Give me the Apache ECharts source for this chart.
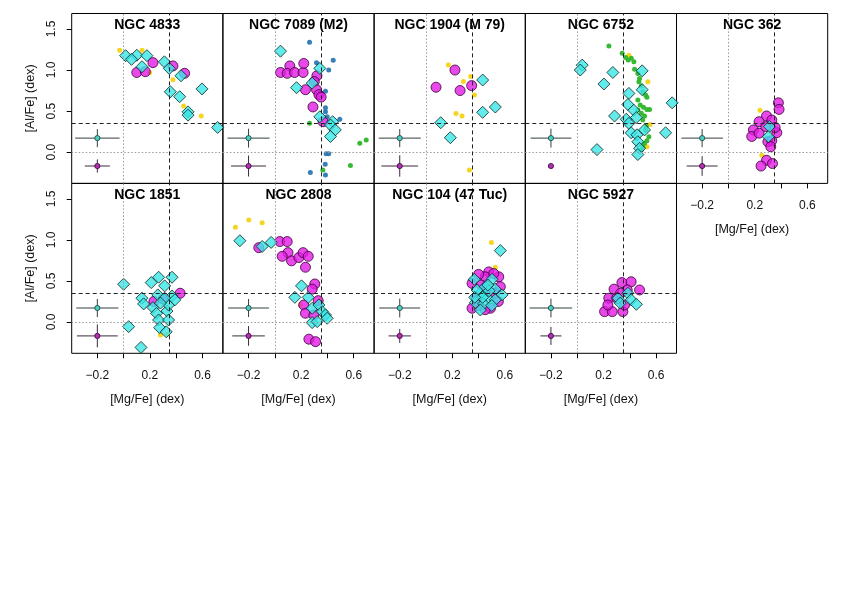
<!DOCTYPE html>
<html><head><meta charset="utf-8">
<script src="https://cdn.jsdelivr.net/npm/echarts@6/dist/echarts.min.js"></script>
<style>html,body{margin:0;padding:0;background:#fff}#c{width:841px;height:595px}</style>
</head><body><div id="c"></div>
<script>
// ---------- DATA ----------
const titles = ["NGC 4833","NGC 7089 (M2)","NGC 1904 (M 79)","NGC 6752","NGC 362","NGC 1851","NGC 2808","NGC 104 (47 Tuc)","NGC 5927"];
const xTicks = [-0.2, 0, 0.2, 0.4, 0.6];
const xTickLabels = [-0.2, 0.2, 0.6];
const yTicks = [0, 0.5, 1.0, 1.5];
const refDotted = 0;
const refDashed = 0.35;

// NGC 4833
const cyan_4833 = [[0.015,1.175],[0.10,1.18],[0.177,1.175],[0.06,1.13],[0.14,1.04],[0.31,1.10],[0.347,1.02],[0.436,0.93],[0.596,0.77],[0.355,0.735],[0.426,0.675],[0.49,0.49],[0.49,0.45],[0.715,0.30]];
const mag_4833 = [[0.10,0.97],[0.165,0.98],[0.223,1.09],[0.375,1.05],[0.464,0.96]];
const yel_4833 = [[-0.03,1.24],[0.14,1.24],[0.198,0.97],[0.375,0.88],[0.456,0.56],[0.59,0.44]];
// NGC 7089
const cyan_7089 = [[0.043,1.23],[0.342,1.02],[0.165,0.785],[0.284,0.84],[0.342,0.43],[0.44,0.37],[0.423,0.33],[0.46,0.27],[0.423,0.19]];
const mag_7089 = [[0.043,0.97],[0.114,1.05],[0.094,0.96],[0.15,0.97],[0.215,0.97],[0.22,1.08],[0.32,0.93],[0.30,0.86],[0.233,0.76],[0.317,0.76],[0.335,0.70],[0.352,0.67],[0.29,0.55],[0.367,0.37]];
const blue_7089 = [[0.264,1.34],[0.444,1.12],[0.41,1.0],[0.317,1.09],[0.385,0.74],[0.385,0.54],[0.385,0.49],[0.398,0.43],[0.494,0.40],[0.39,-0.02],[0.41,-0.02],[0.383,-0.15],[0.27,-0.25],[0.385,-0.28]];
const green_7089 = [[0.264,0.35],[0.695,0.146],[0.646,0.106],[0.575,-0.163],[0.365,-0.22]];
// NGC 1904
const cyan_1904 = [[0.431,0.878],[0.527,0.549],[0.431,0.484],[0.112,0.358],[0.185,0.175]];
const mag_1904 = [[0.22,1.0],[0.076,0.79],[0.259,0.75],[0.347,0.81]];
const yel_1904 = [[0.17,1.06],[0.284,0.86],[0.34,0.92],[0.368,0.695],[0.228,0.47],[0.274,0.44],[0.33,-0.22]];
// NGC 6752
const cyan_6752 = [[0.038,1.06],[0.023,1.0],[0.271,0.97],[0.203,0.83],[0.494,0.99],[0.494,0.76],[0.393,0.715],[0.385,0.58],[0.43,0.51],[0.449,0.42],[0.284,0.44],[0.373,0.40],[0.393,0.35],[0.722,0.60],[0.672,0.235],[0.512,0.27],[0.41,0.235],[0.454,0.21],[0.461,0.126],[0.474,0.045],[0.461,-0.03],[0.15,0.03]];
const green_6752 = [[0.241,1.293],[0.342,1.203],[0.368,1.154],[0.388,1.122],[0.411,1.142],[0.431,1.102],[0.436,1.008],[0.461,0.959],[0.474,0.898],[0.469,0.858],[0.487,0.805],[0.499,0.736],[0.52,0.695],[0.53,0.667],[0.461,0.634],[0.479,0.573],[0.504,0.545],[0.53,0.52],[0.55,0.52],[0.461,0.512],[0.487,0.472],[0.512,0.439],[0.499,0.39],[0.525,0.317],[0.52,0.268],[0.545,0.187],[0.53,0.138],[0.512,0.106],[0.499,0.065],[0.487,0.024]];
const yel_6752 = [[0.393,1.18],[0.537,0.858],[0.555,0.337],[0.53,0.065]];
// NGC 362
const cyan_362 = [[0.312,0.31],[0.304,0.187]];
const mag_362 = [[0.38,0.60],[0.385,0.52],[0.29,0.44],[0.233,0.37],[0.33,0.39],[0.19,0.27],[0.177,0.19],[0.233,0.23],[0.284,0.31],[0.30,0.126],[0.33,0.14],[0.368,0.236],[0.322,0.065],[0.29,-0.10],[0.248,-0.17],[0.335,-0.14],[0.355,0.30]];
const yel_362 = [[0.24,0.51],[0.254,-0.04]];
// NGC 1851
const cyan_1851 = [[0.0,0.46],[0.038,-0.057],[0.132,-0.31],[0.139,0.29],[0.152,0.22],[0.21,0.48],[0.266,0.545],[0.368,0.545],[0.312,0.44],[0.26,0.33],[0.223,0.175],[0.25,0.105],[0.266,0.024],[0.274,-0.07],[0.324,-0.12],[0.33,0.134],[0.342,0.207],[0.368,0.317],[0.342,0.024],[0.312,0.29],[0.28,0.23],[0.39,0.27]];
const mag_1851 = [[0.43,0.35],[0.23,0.25],[0.30,0.28]];
const yel_1851 = [[0.28,-0.16],[0.33,-0.15]];
// NGC 2808
const cyan_2808 = [[-0.266,0.99],[-0.096,0.92],[-0.028,0.97],[0.203,0.44],[0.152,0.30],[0.254,0.30],[0.284,0.167],[0.335,0.207],[0.36,0.126],[0.385,0.085],[0.398,0.045],[0.284,-0.008],[0.322,0.004]];
const mag_2808 = [[-0.122,0.906],[0.038,0.98],[0.094,0.98],[0.10,0.845],[0.056,0.80],[0.127,0.745],[0.183,0.785],[0.215,0.845],[0.254,0.80],[0.233,0.667],[0.304,0.463],[0.284,0.40],[0.33,0.26],[0.22,0.207],[0.233,0.106],[0.297,0.085],[0.259,-0.21],[0.31,-0.24]];
const yel_2808 = [[-0.30,1.155],[-0.198,1.244],[-0.096,1.21],[0.195,0.207],[0.345,0.27]];
// NGC 104
const cyan_104 = [[0.565,0.87],[0.367,0.52],[0.502,0.52],[0.527,0.40],[0.578,0.33],[0.413,0.35],[0.469,0.29],[0.375,0.236],[0.438,0.22],[0.413,0.146],[0.527,0.27],[0.388,0.39],[0.45,0.43],[0.48,0.38],[0.43,0.30],[0.50,0.20],[0.37,0.30],[0.47,0.45]];
const mag_104 = [[0.477,0.61],[0.553,0.55],[0.35,0.47],[0.35,0.167],[0.45,0.55],[0.515,0.59],[0.565,0.43],[0.49,0.167],[0.40,0.58],[0.42,0.45],[0.38,0.30],[0.46,0.40],[0.52,0.35],[0.55,0.25],[0.40,0.20],[0.45,0.15]];
const yel_104 = [[0.497,0.97],[0.527,0.667]];
// NGC 5927
const cyan_5927 = [[0.31,0.29],[0.385,0.35],[0.41,0.27],[0.45,0.215],[0.327,0.23]];
const mag_5927 = [[0.34,0.48],[0.41,0.49],[0.474,0.39],[0.24,0.29],[0.208,0.126],[0.266,0.126],[0.347,0.126],[0.30,0.29],[0.233,0.207],[0.36,0.207],[0.28,0.40],[0.38,0.39],[0.33,0.35]];

// typical error bars [x, y, xerr, yerr] per panel
const errCyan = [[-0.2,0.17,0.169,0.11],[-0.2,0.17,0.16,0.115],[-0.2,0.17,0.16,0.11],[-0.2,0.17,0.155,0.115],[-0.2,0.17,0.158,0.11],[-0.2,0.17,0.16,0.11],[-0.2,0.17,0.155,0.11],[-0.2,0.17,0.156,0.115],[-0.2,0.17,0.162,0.115]];
const errMag = [[-0.2,-0.17,0.095,0.08],[-0.2,-0.17,0.133,0.128],[-0.2,-0.17,0.14,0.13],[-0.2,-0.17,0,0],[-0.2,-0.17,0.118,0.12],[-0.2,-0.17,0.155,0.14],[-0.2,-0.17,0.124,0.12],[-0.2,-0.17,0.085,0.085],[-0.2,-0.17,0.08,0.11]];

// ---------- BUILD ----------
const panels = [
  {cyan:cyan_4833, mag:mag_4833, yel:yel_4833, blue:[], green:[]},
  {cyan:cyan_7089, mag:mag_7089, yel:[], blue:blue_7089, green:green_7089},
  {cyan:cyan_1904, mag:mag_1904, yel:yel_1904, blue:[], green:[]},
  {cyan:cyan_6752, mag:[], yel:yel_6752, blue:[], green:green_6752},
  {cyan:cyan_362, mag:mag_362, yel:yel_362, blue:[], green:[]},
  {cyan:cyan_1851, mag:mag_1851, yel:yel_1851, blue:[], green:[]},
  {cyan:cyan_2808, mag:mag_2808, yel:yel_2808, blue:[], green:[]},
  {cyan:cyan_104, mag:mag_104, yel:yel_104, blue:[], green:[]},
  {cyan:cyan_5927, mag:mag_5927, yel:[], blue:[], green:[]}
];

const FONT = "'Liberation Sans', Arial, Helvetica, sans-serif";
const colL = 71.7, colW = 151.2, rowT = [13.5, 183.4], rowH = 169.9;
const grids = [], xAxes = [], yAxes = [], series = [], titleOpts = [];

function errRenderer(fill, stroke, lineCol) {
  return function (params, api) {
    const x = api.value(0), y = api.value(1), ex = api.value(2), ey = api.value(3);
    const c = api.coord([x, y]);
    const ch = [];
    if (ex > 0) {
      const l = api.coord([x - ex, y]), r = api.coord([x + ex, y]);
      const t = api.coord([x, y + ey]), b = api.coord([x, y - ey]);
      ch.push({type:'line', shape:{x1:l[0],y1:l[1],x2:r[0],y2:r[1]}, style:{stroke:lineCol, lineWidth:1}});
      ch.push({type:'line', shape:{x1:t[0],y1:t[1],x2:b[0],y2:b[1]}, style:{stroke:lineCol, lineWidth:1}});
    }
    ch.push({type:'circle', shape:{cx:c[0], cy:c[1], r:2.6}, style:{fill:fill, stroke:stroke, lineWidth:0.8}});
    return {type:'group', children:ch};
  };
}

panels.forEach((p, i) => {
  const row = i < 5 ? 0 : 1;
  const col = i < 5 ? i : i - 5;
  const left = colL + col * colW;
  const top = rowT[row];
  grids.push({left:left, top:top, width:colW, height:rowH, show:true, borderColor:'#000', borderWidth:1, backgroundColor:'transparent', containLabel:false});
  const showX = row === 1 || i === 4;
  const showY = col === 0;
  xAxes.push({
    type:'value', gridIndex:i, min:-0.395, max:0.755, position:'bottom',
    axisLine:{show:false, onZero:false}, splitLine:{show:false},
    axisTick:{show:showX, customValues:xTicks, length:5, lineStyle:{color:'#000', width:1}},
    axisLabel:{show:showX, customValues:xTickLabels, margin:16, fontSize:12, color:'#111', fontFamily:FONT,
      formatter: v => (v < 0 ? '\u2212' : '') + Math.abs(v).toFixed(1)},
    name: showX ? '[Mg/Fe] (dex)' : '', nameLocation:'middle', nameGap:40,
    nameTextStyle:{fontSize:12.5, color:'#111', fontFamily:FONT}
  });
  yAxes.push({
    type:'value', gridIndex:i, min:-0.382, max:1.689, position:'left',
    axisLine:{show:false, onZero:false}, splitLine:{show:false},
    axisTick:{show:showY, customValues:yTicks, length:5, lineStyle:{color:'#000', width:1}},
    axisLabel:{show:showY, customValues:yTicks, rotate:90, margin:14, fontSize:12, color:'#111', fontFamily:FONT,
      formatter: v => v.toFixed(1)},
    name: showY ? '[Al/Fe] (dex)' : '', nameLocation:'middle', nameGap:35,
    nameTextStyle:{fontSize:12.5, color:'#111', fontFamily:FONT}
  });
  titleOpts.push({text:titles[i], left:left + colW/2, top:top + 5, textAlign:'center', padding:0,
    textStyle:{fontSize:14, fontWeight:'bold', color:'#000', fontFamily:FONT}});

  // reference lines
  series.push({type:'scatter', xAxisIndex:i, yAxisIndex:i, data:[], z:1, silent:true,
    markLine:{silent:true, symbol:['none','none'], label:{show:false}, animation:false,
      data:[
        {xAxis:refDotted, lineStyle:{color:'#9a9a9a', type:[1.5,2], width:1}},
        {yAxis:refDotted, lineStyle:{color:'#9a9a9a', type:[1.5,2], width:1}},
        {xAxis:refDashed, lineStyle:{color:'#222', type:[4,3], width:1}},
        {yAxis:refDashed, lineStyle:{color:'#222', type:[4,3], width:1}}
      ]}});
  const small = (data, color) => ({type:'scatter', xAxisIndex:i, yAxisIndex:i, data:data, symbol:'circle', symbolSize:5,
    itemStyle:{color:color, opacity:0.95}, z:2, clip:false, silent:true});
  if (p.yel.length) series.push(small(p.yel, '#f5d314'));
  if (p.blue.length) series.push(small(p.blue, '#2b78b3'));
  if (p.green.length) series.push(small(p.green, '#2cb52a'));
  if (p.mag.length) series.push({type:'scatter', xAxisIndex:i, yAxisIndex:i, data:p.mag, symbol:'circle', symbolSize:10,
    itemStyle:{color:'#e21ce2', borderColor:'#3a003a', borderWidth:1}, z:3, clip:false, silent:true});
  series.push({type:'scatter', xAxisIndex:i, yAxisIndex:i, data:p.cyan, symbol:'diamond', symbolSize:12,
    itemStyle:{color:'#3ae6e6', borderColor:'#0c2424', borderWidth:1}, z:4, clip:false, silent:true});
  series.push({type:'custom', xAxisIndex:i, yAxisIndex:i, data:[errCyan[i]], renderItem:errRenderer('#48d0c4','#1c3a3a','#34403f'), z:5, clip:false, silent:true});
  series.push({type:'custom', xAxisIndex:i, yAxisIndex:i, data:[errMag[i]], renderItem:errRenderer('#b030b0','#3a003a','#3e2a3e'), z:5, clip:false, silent:true});
});

const chart = echarts.init(document.getElementById('c'), null, {renderer:'canvas'});
chart.setOption({
  animation:false, backgroundColor:'#fff',
  title:titleOpts, grid:grids, xAxis:xAxes, yAxis:yAxes, series:series
});
</script></body></html>
